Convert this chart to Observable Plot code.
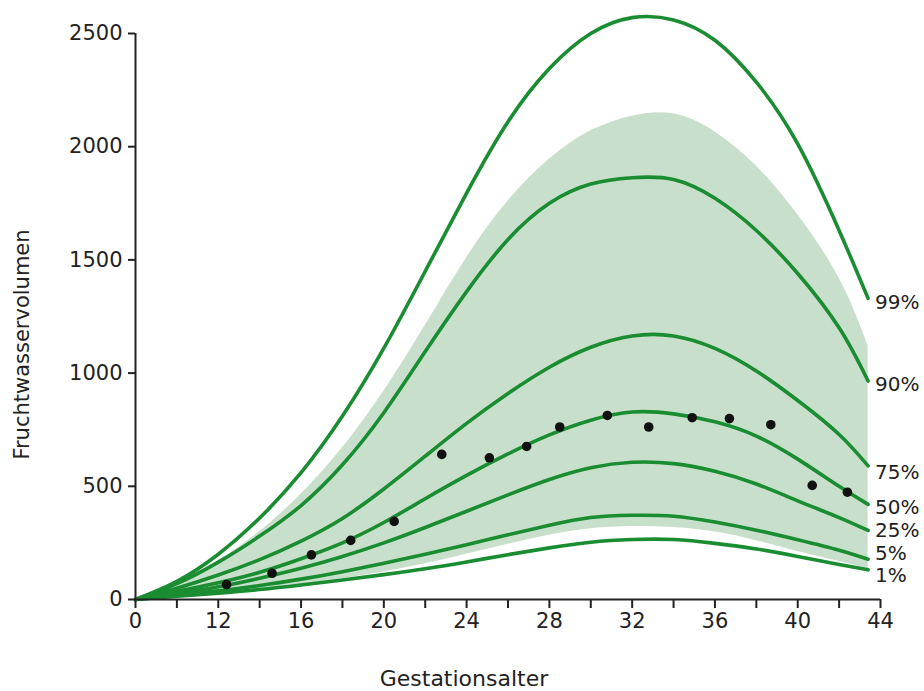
<!DOCTYPE html>
<html>
<head>
<meta charset="utf-8">
<script src="https://cdn.jsdelivr.net/npm/d3@7"></script>
<script src="https://cdn.jsdelivr.net/npm/@observablehq/plot@0.6"></script>
<style>
  html, body { margin: 0; padding: 0; background: #fff; }
</style>
</head>
<body>
<div id="chart"></div>
<script>
// Gestational week (axis "0" stands for week 8 on a broken axis)
const weeks = [8, 10, 12, 14, 16, 18, 20, 22, 24, 26, 28, 30, 32, 34, 36, 38, 40, 42, 43.4];

// Percentile curves (amniotic fluid volume, mL)
const p99 = [0, 80, 200, 360, 560, 810, 1110, 1450, 1795, 2110, 2345, 2500, 2570, 2560, 2470, 2285, 2012, 1630, 1330];
const p90 = [0, 70, 165, 280, 415, 595, 825, 1095, 1360, 1590, 1750, 1835, 1863, 1855, 1772, 1630, 1440, 1200, 965];
const p75 = [0, 50, 108, 176, 258, 358, 488, 633, 778, 910, 1026, 1114, 1164, 1164, 1109, 1009, 879, 729, 590];
const p50 = [0, 36, 74, 120, 180, 250, 340, 445, 548, 643, 727, 792, 828, 820, 785, 722, 620, 500, 420];
const p25 = [0, 26, 56, 94, 138, 190, 250, 318, 390, 462, 530, 582, 606, 600, 566, 510, 436, 362, 305];
const p5  = [0, 18, 38, 62, 90, 123, 160, 200, 242, 286, 328, 362, 372, 368, 342, 306, 264, 218, 178];
const p1  = [0, 14, 28, 44, 64, 86, 110, 136, 166, 198, 228, 253, 265, 265, 248, 223, 190, 155, 131];

// Shaded band (lower / upper edge)
const bandLower = [0, 12, 26, 44, 66, 92, 122, 158, 200, 244, 284, 312, 322, 318, 298, 260, 212, 168, 136];
const bandUpper = [0, 70, 170, 300, 465, 670, 920, 1210, 1510, 1760, 1945, 2070, 2135, 2145, 2065, 1915, 1700, 1420, 1120];

// Observed mean volumes (dots)
const dotWeeks  = [12.4, 14.6, 16.5, 18.4, 20.5, 22.8, 25.1, 26.9, 28.5, 30.8, 32.8, 34.9, 36.7, 38.7, 40.7, 42.4];
const dotValues = [66, 116, 197, 261, 345, 641, 626, 676, 762, 813, 762, 803, 799, 772, 504, 474];

// Curve labels
const curveLabels = ["99%", "90%", "75%", "50%", "25%", "5%", "1%"];

// Axis ticks
const xTickWeeks  = [8, 10, 12, 14, 16, 18, 20, 22, 24, 26, 28, 30, 32, 34, 36, 38, 40, 42, 44];
const xTickLabels = ["0", "", "12", "", "16", "", "20", "", "24", "", "28", "", "32", "", "36", "", "40", "", "44"];
const yTicks = [0, 500, 1000, 1500, 2000, 2500];
const yTickLabels = ["0", "500", "1000", "1500", "2000", "2500"];

const xTitle = "Gestationsalter";
const yTitle = "Fruchtwasservolumen";

const curveValues = [p99, p90, p75, p50, p25, p5, p1];
const lineRows = curveValues.flatMap((vals, k) =>
  weeks.map((w, i) => ({week: w, value: vals[i], pct: curveLabels[k]})));
const bandRows = weeks.map((w, i) => ({week: w, lo: bandLower[i], hi: bandUpper[i]}));
const dotRows = dotWeeks.map((w, i) => ({week: w, value: dotValues[i]}));
const last = weeks.length - 1;
const endRows = curveValues.map((vals, k) => ({week: weeks[last], value: vals[last], pct: curveLabels[k]}));

const green = "#1a8c31";
const ink = "#222";
// small vertical nudges (px) so the end labels don't collide
const labelDy = [4, 4, 7, 3, 0, -6, 6];

const chart = Plot.plot({
  width: 924,
  height: 691,
  marginLeft: 135,
  marginRight: 44,
  marginTop: 33,
  marginBottom: 92,
  style: {fontFamily: "'DejaVu Sans', 'Liberation Sans', Arial, sans-serif", fontSize: "21px", color: ink, background: "#fff"},
  x: {domain: [8, 44], axis: null},
  y: {domain: [0, 2500], axis: null},
  marks: [
    Plot.areaY(bandRows, {x: "week", y1: "lo", y2: "hi", fill: "#c8e0cb", curve: "natural"}),
    Plot.line(lineRows, {x: "week", y: "value", z: "pct", stroke: green, strokeWidth: 3.6, curve: "natural"}),
    Plot.dot(dotRows, {x: "week", y: "value", r: 4.8, fill: "#111", stroke: null}),
    Plot.ruleX([8], {stroke: ink, strokeWidth: 2}),
    Plot.ruleY([0], {stroke: ink, strokeWidth: 2}),
    Plot.axisX(xTickWeeks, {
      tickSize: 9, tickPadding: 5, strokeWidth: 2, stroke: ink, fontSize: 21,
      tickFormat: d => xTickLabels[xTickWeeks.indexOf(d)], label: null
    }),
    Plot.axisY(yTicks, {
      tickSize: 7, tickPadding: 6, strokeWidth: 2, stroke: ink, fontSize: 21,
      tickFormat: d => yTickLabels[yTicks.indexOf(d)], label: null
    }),
    ...endRows.map((r, k) => Plot.text([r], {
      x: "week", y: "value", text: "pct", textAnchor: "start", dx: 7, dy: labelDy[k],
      fontSize: 20, fill: ink
    })),
    Plot.text([yTitle], {frameAnchor: "left", textAnchor: "middle", lineAnchor: "middle", rotate: -90, dx: -113, dy: 28, fontSize: 21, fill: ink}),
    Plot.text([xTitle], {frameAnchor: "bottom", textAnchor: "middle", lineAnchor: "middle", dx: -44, dy: 79, fontSize: 22, fill: ink})
  ]
});
document.getElementById("chart").append(chart);
</script>
</body>
</html>
